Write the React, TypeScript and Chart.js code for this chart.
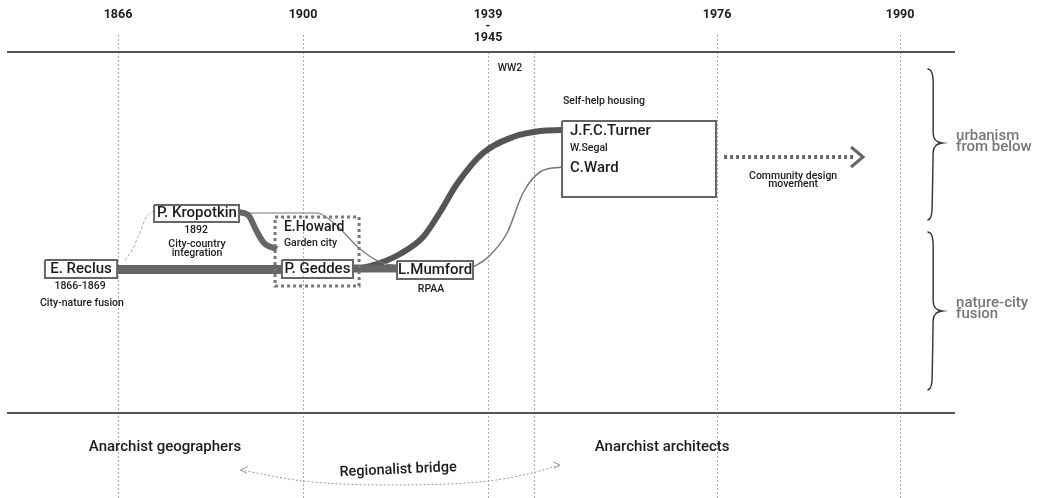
import React, { useEffect, useRef } from "react";
import { Chart, registerables } from "chart.js";

Chart.register(...registerables);

const FONT = 'Roboto, "DejaVu Sans", sans-serif';

// ---- timeline axis (x values are timeline positions, one unit per main period) ----
const tickPositions = [0, 1, 2, 2.249, 3.238, 4.227];
const tickLabels = [
  ["1866", "", ""],
  ["1900", "", ""],
  ["1939", "-", "1945"],
  ["", "", ""],
  ["1976", "", ""],
  ["1990", "", ""],
];
const tickMarkShown = [true, true, false, false, true, true];
const xMin = -0.6;
const xMax = 4.524;
const yMin = 0;
const yMax = 446;

// ---- horizontal rules ----
const ruleX = [-0.6, 4.524];
const ruleLevels = [0, 361];

// ---- node boxes ----
const boxNames = ["E. Reclus", "P. Kropotkin", "P. Geddes", "L.Mumford", "Turner group"];
const boxX1 = [-0.395, 0.195, 0.886, 1.508, 2.4];
const boxX2 = [-0.005, 0.654, 1.27, 1.919, 3.232];
const boxY1 = [208, 153, 208, 209, 69];
const boxY2 = [226, 170, 226, 227, 145];

// dotted group box (E.Howard + P.Geddes)
const groupX = [0.849, 1.303];
const groupY = [165, 234];

// ---- links ----
const reclusGeddesX = [-0.005, 0.886];
const reclusGeddesY = [217.5, 217.5];
const geddesMumfordX = [1.27, 1.508];
const geddesMumfordY = [216.5, 216.5];
const kropotkinHowardX = [0.654, 0.708, 0.746, 0.789, 0.859];
const kropotkinHowardY = [160, 164, 178, 191, 197];
const kropotkinMumfordX = [0.654, 1.076, 1.184, 1.308, 1.416, 1.508];
const kropotkinMumfordY = [161, 161, 174, 197, 210, 214];
const geddesTurnerX = [1.297, 1.416, 1.524, 1.649, 1.741, 1.832, 1.973, 2.135, 2.281, 2.4];
const geddesTurnerY = [217, 211, 202, 185, 160, 132, 101, 85, 79, 78];
const mumfordWardX = [1.919, 1.995, 2.103, 2.189, 2.281, 2.4];
const mumfordWardY = [215, 206, 181, 141, 120, 115];
const reclusKropotkinX = [0.038, 0.076, 0.119, 0.151, 0.189];
const reclusKropotkinY = [208, 198, 180, 166, 159];

// community design arrow
const arrowX = [3.276, 3.973];
const arrowY = [105, 105];
const chevronX = [3.962, 4.027, 3.962];
const chevronY = [95, 105, 115];

// regionalist bridge arc
const bridgeX = [0.663, 1.0, 1.452, 2.0, 2.238, 2.389];
const bridgeY = [418, 429, 433, 429, 421, 413];
const bridgeLeftHeadX = [0.703, 0.663, 0.697];
const bridgeLeftHeadY = [414.5, 418, 421.5];
const bridgeRightHeadX = [2.351, 2.389, 2.357];
const bridgeRightHeadY = [410, 413, 416.5];

// braces
const braceBodyX = 4.406;
const braceTipX = 4.454;
const braceHookX = 4.375;
const braceTop = [17, 180];
const braceMid = [91, 259];
const braceBottom = [168, 338];

// ---- texts ----
const nameText = ["E. Reclus", "P. Kropotkin", "P. Geddes", "L.Mumford", "E.Howard", "J.F.C.Turner", "C.Ward"];
const nameX = [-0.2, 0.427, 1.078, 1.714, 0.897, 2.443, 2.443];
const nameY = [217, 161.5, 217, 218, 175, 79, 116];
const nameAlign = ["center", "center", "center", "center", "left", "left", "left"];

const noteText = [
  "1866-1869", "City-nature fusion", "1892", "City-country", "integration",
  "Garden city", "RPAA", "W.Segal", "Self-help housing", "Community design", "movement", "WW2",
];
const noteX = [-0.205, -0.195, 0.422, 0.427, 0.427, 0.897, 1.692, 2.443, 2.405, 3.649, 3.649, 2.119];
const noteY = [234, 251, 178, 192, 201, 191, 237, 96, 49, 124, 132, 16];
const noteAlign = ["center", "center", "center", "center", "center", "left", "center", "left", "left", "center", "center", "center"];

const sideText = ["urbanism", "from below", "nature-city", "fusion"];
const sideX = [4.53, 4.53, 4.53, 4.53];
const sideY = [84, 95, 251, 262];

const groupText = ["Anarchist geographers", "Anarchist architects", "Regionalist bridge"];
const groupLabelX = [0.254, 2.941, 1.514];
const groupLabelY = [395, 395, 418];
const groupRotation = [0, 0, -2.5];

// ---- styles ----
const INK = "#1c1c1c";
const LINK = "#666";

function pts(xs: number[], ys: number[]) {
  return xs.map((x, i) => ({ x, y: ys[i] }));
}

function lineDs(xs: number[], ys: number[], style: any) {
  return {
    type: "line",
    data: pts(xs, ys),
    borderColor: style.color || LINK,
    borderWidth: style.width || 1,
    borderDash: style.dash || [],
    borderCapStyle: style.cap || "butt",
    borderJoinStyle: style.join || "miter",
    cubicInterpolationMode: style.curve ? "monotone" : "default",
    tension: 0,
    pointRadius: 0,
    fill: false,
    clip: false,
  };
}

const diagramPlugin = {
  id: "diagramText",
  afterDatasetsDraw(chart: any) {
    const { ctx } = chart;
    const xs = chart.scales.x;
    const ys = chart.scales.y;
    const px = (v: number) => xs.getPixelForValue(v);
    const py = (v: number) => ys.getPixelForValue(v);
    ctx.save();

    // braces
    ctx.strokeStyle = "#333";
    ctx.lineWidth = 1.4;
    ctx.setLineDash([]);
    for (let i = 0; i < braceTop.length; i++) {
      const bx = px(braceBodyX), tx = px(braceTipX), hx = px(braceHookX);
      const t = py(braceTop[i]), m = py(braceMid[i]), b = py(braceBottom[i]);
      ctx.beginPath();
      ctx.moveTo(hx, t);
      ctx.quadraticCurveTo(bx, t, bx, t + 14);
      ctx.lineTo(bx, m - 10);
      ctx.quadraticCurveTo(bx, m - 1, tx, m);
      ctx.quadraticCurveTo(bx, m + 1, bx, m + 10);
      ctx.lineTo(bx - 1, b - 14);
      ctx.quadraticCurveTo(bx - 1, b, hx, b);
      ctx.stroke();
    }

    const draw = (text: string, x: number, y: number, size: number, weight: string, color: string, align: string, rot = 0) => {
      ctx.save();
      ctx.font = `${weight} ${size}px ${FONT}`;
      ctx.fillStyle = color;
      ctx.textAlign = align;
      ctx.textBaseline = "middle";
      ctx.translate(px(x), py(y));
      if (rot) ctx.rotate((rot * Math.PI) / 180);
      ctx.fillText(text, 0, 0);
      ctx.restore();
    };

    nameText.forEach((t, i) => {
      const size = t === "E.Howard" ? 14 : 15;
      draw(t, nameX[i], nameY[i], size, "500", INK, nameAlign[i]);
    });
    noteText.forEach((t, i) => {
      draw(t, noteX[i], noteY[i], 10.5, "500", INK, noteAlign[i]);
    });
    sideText.forEach((t, i) => {
      draw(t, sideX[i], sideY[i], 15, "500", "#777", "left");
    });
    groupText.forEach((t, i) => {
      draw(t, groupLabelX[i], groupLabelY[i], i === 2 ? 14.5 : 15, "500", INK, "center", groupRotation[i]);
    });
    ctx.restore();
  },
};

export default function App() {
  const ref = useRef<HTMLCanvasElement>(null);

  useEffect(() => {
    const datasets: any[] = [];

    // rules
    ruleLevels.forEach((lv) => datasets.push(lineDs(ruleX, [lv, lv], { color: "#555", width: 2 })));

    // boxes
    boxNames.forEach((_, i) => {
      const x1 = boxX1[i], x2 = boxX2[i], y1 = boxY1[i], y2 = boxY2[i];
      datasets.push(lineDs([x1, x2, x2, x1, x1], [y1, y1, y2, y2, y1], { color: "#666", width: 2 }));
    });
    datasets.push(
      lineDs(
        [groupX[0], groupX[1], groupX[1], groupX[0], groupX[0]],
        [groupY[0], groupY[0], groupY[1], groupY[1], groupY[0]],
        { color: "#777", width: 3, dash: [3, 3] }
      )
    );

    // links
    datasets.push(lineDs(reclusGeddesX, reclusGeddesY, { width: 9 }));
    datasets.push(lineDs(geddesMumfordX, geddesMumfordY, { width: 8 }));
    datasets.push(lineDs(kropotkinHowardX, kropotkinHowardY, { width: 6, curve: true }));
    datasets.push(lineDs(kropotkinMumfordX, kropotkinMumfordY, { width: 1.2, curve: true, color: "#777" }));
    datasets.push(lineDs(geddesTurnerX, geddesTurnerY, { width: 6, curve: true, color: "#555" }));
    datasets.push(lineDs(mumfordWardX, mumfordWardY, { width: 1.5, curve: true, color: "#777" }));
    datasets.push(lineDs(reclusKropotkinX, reclusKropotkinY, { width: 1, curve: true, color: "#aaa", dash: [3, 2] }));

    // arrow
    datasets.push(lineDs(arrowX, arrowY, { width: 4, dash: [3, 3] }));
    datasets.push(lineDs(chevronX, chevronY, { width: 3 }));

    // bridge
    datasets.push(lineDs(bridgeX, bridgeY, { width: 1, curve: true, color: "#999", dash: [2, 2] }));
    datasets.push(lineDs(bridgeLeftHeadX, bridgeLeftHeadY, { width: 1, color: "#999" }));
    datasets.push(lineDs(bridgeRightHeadX, bridgeRightHeadY, { width: 1, color: "#999" }));

    const chart = new Chart(ref.current as HTMLCanvasElement, {
      type: "line",
      data: { datasets },
      options: {
        responsive: false,
        animation: false,
        devicePixelRatio: 1,
        events: [],
        layout: { padding: { left: 7, right: 1039 - 955, top: 0, bottom: 0 } },
        plugins: { legend: { display: false }, tooltip: { enabled: false } },
        scales: {
          x: {
            type: "linear",
            position: "top",
            min: xMin,
            max: xMax,
            afterBuildTicks: (s: any) => {
              s.ticks = tickPositions.map((v) => ({ value: v }));
            },
            afterFit: (s: any) => {
              s.height = 52;
            },
            ticks: {
              autoSkip: false,
              maxRotation: 0,
              minRotation: 0,
              padding: -8.75,
              color: INK,
              font: { family: FONT, size: 12.5, weight: "bold", lineHeight: "11.5px" },
              callback: (_v: any, i: number) => tickLabels[i],
            },
            grid: {
              color: "#aaa",
              lineWidth: 1,
              drawTicks: true,
              tickLength: 17,
              tickWidth: 1,
              tickBorderDash: [2, 2],
              tickColor: (c: any) => (tickMarkShown[c.index] ? "#aaa" : "rgba(0,0,0,0)"),
            },
            border: { display: false, dash: [2, 2] },
          },
          y: {
            type: "linear",
            display: false,
            reverse: true,
            min: yMin,
            max: yMax,
          },
        },
      } as any,
      plugins: [diagramPlugin],
    } as any);
    return () => chart.destroy();
  }, []);

  return (
    <div style={{ position: "fixed", left: 0, top: 0, width: 1039, height: 498, background: "#fff" }}>
      <canvas ref={ref} width={1039} height={498} style={{ display: "block", width: 1039, height: 498 }} />
    </div>
  );
}
